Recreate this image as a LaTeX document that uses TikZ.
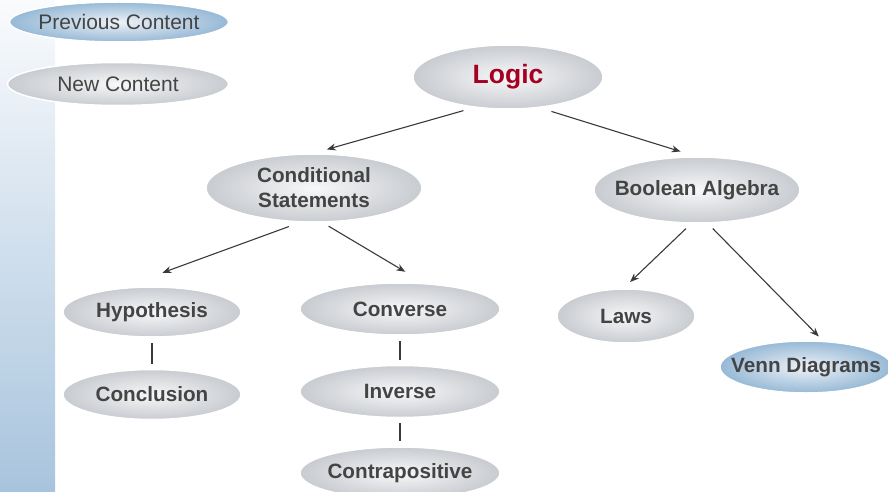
\documentclass[tikz,border=0pt]{standalone}
\usepackage{fontspec}
\setmainfont{Liberation Sans}
\usetikzlibrary{shapes.geometric, positioning, arrows.meta}
\definecolor{txtgray}{RGB}{68,68,68}
\definecolor{logicred}{RGB}{165,0,33}
\definecolor{linegray}{RGB}{58,58,58}
\definecolor{bubin}{RGB}{247,248,249}
\definecolor{bubout}{RGB}{200,203,208}
\definecolor{bluein}{RGB}{238,242,247}
\definecolor{blueout}{RGB}{150,185,214}
\definecolor{bartop}{RGB}{250,251,253}
\definecolor{barbot}{RGB}{168,196,221}
\tikzset{
  topic/.style={ellipse, draw=white, line width=1.5pt, inner color=bubin, outer color=bubout, text=txtgray, font=\fontsize{20.7}{25}\selectfont\bfseries, align=center, inner xsep=-20pt, inner ysep=0pt},
  known/.style={topic, inner color=bluein, outer color=blueout},
  legend/.style={font=\fontsize{21}{25}\selectfont\mdseries},
  arrow/.style={draw=linegray, line width=1.1pt, -{Stealth[length=9pt,width=7pt]}},
  tie/.style={draw=linegray, line width=1.4pt, shorten <=5pt, shorten >=5pt}
}
\begin{document}
\begin{tikzpicture}[x=1pt, y=-1pt]
    \useasboundingbox (0,0) rectangle (888,492);
    \fill [top color=bartop, bottom color=barbot] (0,0) rectangle (55,492);

    % legend
    \node (prev) [known, legend, minimum width=219pt, minimum height=40pt] at (119,22) {Previous Content};
    \node (new) [topic, legend, minimum width=221pt, minimum height=43pt] at (118,84) {New Content};

    \node (logic) [topic, text=logicred, font=\fontsize{26.5}{30}\selectfont\bfseries, minimum width=190pt, minimum height=64pt] at (508,77) {Logic};

    \node (cond) [topic, minimum width=216pt, minimum height=68pt] at (314,188) {Conditional\\Statements};
    \node (bool) [topic, minimum width=206pt, minimum height=66pt] at (697,190) {Boolean Algebra};

    \node (hyp) [topic, minimum width=178pt, minimum height=50pt] at (152,312) {Hypothesis};
    \node (conc) [topic, minimum width=178pt, minimum height=50pt, below=31pt of hyp] {Conclusion};

    \node (conv) [topic, minimum width=200pt, minimum height=52pt] at (400,309) {Converse};
    \node (inv) [topic, minimum width=200pt, minimum height=52pt, below=29pt of conv] {Inverse};
    \node (contra) [topic, minimum width=200pt, minimum height=52pt, below=28pt of inv] {Contrapositive};

    \node (laws) [topic, minimum width=138pt, minimum height=54pt] at (626,316) {Laws};
    \node (venn) [known, minimum width=172pt, minimum height=52pt] at (806,367) {Venn Diagrams};

    % Flechas
    \draw [arrow, shorten <=11pt, shorten >=14pt] (logic.222) -- (cond.91);
    \draw [arrow, shorten <=12pt, shorten >=16pt] (logic.316) -- (bool.92);
    \draw [arrow, shorten <=12pt, shorten >=44pt] (cond.248) -- (hyp.142);
    \draw [arrow, shorten <=7pt, shorten >=22pt] (cond.284) -- (conv.47);
    \draw [arrow, shorten <=7pt, shorten >=9pt] (bool.260) -- (laws.95);
    \draw [arrow, shorten <=7pt, shorten >=6pt] (bool.288) -- (venn.57);

    % Lineas
    \draw [tie] (hyp) -- (conc);
    \draw [tie] (conv) -- (inv);
    \draw [tie] (inv) -- (contra);
\end{tikzpicture}
\end{document}
